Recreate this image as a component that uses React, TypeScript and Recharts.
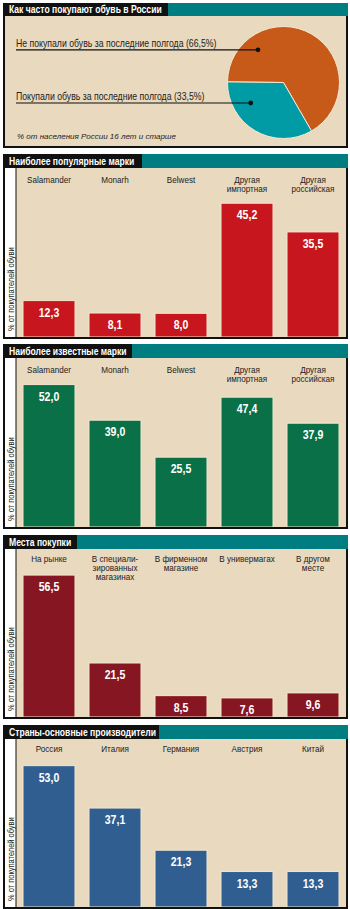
import React from 'react';
import { BarChart, Bar, XAxis, YAxis, CartesianGrid, LabelList, PieChart, Pie, Cell } from 'recharts';

const FONT = '"Liberation Sans", Arial, sans-serif';
const BEIGE = '#e9d9be';
const TEAL = '#007d80';
const SQUEEZE = 0.98;

// ---- data ----
const pieNames = ['Не покупали обувь за последние полгода', 'Покупали обувь за последние полгода'];
const pieValues = [66.5, 33.5];
const pieColors = ['#c85a19', '#009ba5'];

const brandCategories = ['Salamander', 'Monarh', 'Belwest', 'Другая\nимпортная', 'Другая\nроссийская'];
const popularValues = [12.3, 8.1, 8.0, 45.2, 35.5];
const knownValues = [52.0, 39.0, 25.5, 47.4, 37.9];

const placeCategories = ['На рынке', 'В специали-\nзированных\nмагазинах', 'В фирменном\nмагазине', 'В универмагах', 'В другом\nместе'];
const placeValues = [56.5, 21.5, 8.5, 7.6, 9.6];

const countryCategories = ['Россия', 'Италия', 'Германия', 'Австрия', 'Китай'];
const countryValues = [53.0, 37.1, 21.3, 13.3, 13.3];

const fmt = (v: number) => Number(v).toFixed(1).replace('.', ',');

// label anchor placement on the pie (style constants)
const PIE_ANCHORS = [
  { angle: 128, r: 0.74 },
  { angle: 212, r: 0.69 },
];
const PIE_TEXT_X = 11;

const TitleBar = ({ title, height, labelWidth }: { title: string; height: number; labelWidth: number }) => (
  <div style={{ display: 'flex', height, background: TEAL, fontSize: 11, lineHeight: height + 'px' }}>
    <div
      style={{
        background: '#111',
        width: labelWidth,
        height,
        overflow: 'hidden',
        flex: 'none',
      }}
    >
      <div
        style={{
          color: '#fff',
          fontFamily: FONT,
          fontWeight: 'bold',
          fontSize: 11,
          lineHeight: height + 'px',
          height,
          whiteSpace: 'nowrap',
          marginLeft: 6,
          transform: 'scaleX(0.78)',
          transformOrigin: 'left center',
        }}
      >
        {title}
      </div>
    </div>
  </div>
);

const CatTick = (props: any) => {
  const { x, y, payload, firstLine } = props;
  const lines = String(payload.value).split('\n');
  return (
    <g transform={`translate(${x},${y + firstLine}) scale(${SQUEEZE},1)`}>
      <text x={0} y={0} textAnchor="middle" fontFamily={FONT} fontSize={8.3} fill="#222">
        {lines.map((l: string, i: number) => (
          <tspan key={i} x={0} dy={i === 0 ? 0 : 9.4}>
            {l}
          </tspan>
        ))}
      </text>
    </g>
  );
};

const ValueLabel = (props: any) => {
  const { x, y, width, value } = props;
  const cx = Number(x) + Number(width) / 2;
  const cy = Number(y) + 16;
  return (
    <g transform={`translate(${cx},${cy}) scale(0.88,1)`}>
      <text x={0} y={0} textAnchor="middle" fill="#fff" fontFamily={FONT} fontSize={12} fontWeight="bold">
        {fmt(value)}
      </text>
    </g>
  );
};

const YLabel = (props: any) => {
  const vb = props.viewBox || {};
  const cx = vb.x + vb.width / 2 + 3;
  const cy = vb.y + vb.height - 6;
  return (
    <g transform={`translate(${cx},${cy}) rotate(-90) scale(0.88,1)`}>
      <text x={0} y={0} textAnchor="start" fontFamily={FONT} fontSize={8.5} fill="#222">
        % от покупателей обуви
      </text>
    </g>
  );
};

type BarPanelProps = {
  top: number;
  title: string;
  labelWidth: number;
  categories: string[];
  values: number[];
  color: string;
  yMax: number;
  plotHeight: number;
  firstLine: number;
};

const BarPanel = ({ top, title, labelWidth, categories, values, color, yMax, plotHeight, firstLine }: BarPanelProps) => {
  const data = categories.map((c, i) => ({ name: c, value: values[i] }));
  return (
    <div style={{ position: 'absolute', left: 3, top, width: 345 }}>
      <TitleBar title={title} height={14} labelWidth={labelWidth} />
      <div
        style={{
          borderLeft: '2px solid #111',
          borderRight: '2px solid #111',
          borderBottom: '2px solid #111',
          background: '#fff',
          height: plotHeight,
        }}
      >
        <BarChart width={341} height={plotHeight} data={data} margin={{ top: 0, right: 0, bottom: 0, left: 0 }} barSize={52}>
          <CartesianGrid fill={BEIGE} horizontal={false} vertical={false} stroke="none" />
          <YAxis
            width={11}
            type="number"
            domain={[0, yMax]}
            allowDataOverflow
            tick={false}
            tickLine={false}
            axisLine={{ stroke: '#111', strokeWidth: 1 }}
            label={{ content: YLabel }}
          />
          <Bar xAxisId="cat" dataKey="value" fill={color} stroke="#f2e6cf" strokeWidth={1} isAnimationActive={false}>
            <LabelList dataKey="value" content={ValueLabel} />
          </Bar>
          <XAxis
            xAxisId="cat"
            dataKey="name"
            orientation="top"
            mirror
            height={30}
            axisLine={false}
            tickLine={false}
            tickSize={0}
            tickMargin={0}
            interval={0}
            tick={<CatTick firstLine={firstLine} />}
          />
          <XAxis
            xAxisId="grid"
            type="number"
            domain={[0, 5]}
            ticks={[1, 2, 3, 4, 5]}
            allowDataOverflow
            orientation="bottom"
            mirror
            height={12}
            axisLine={false}
            tick={false}
            tickSize={9}
            tickLine={{ stroke: '#222', strokeWidth: 1 }}
          />
        </BarChart>
      </div>
    </div>
  );
};

const PieLabel = (props: any) => {
  const { cx, cy, outerRadius, index, value } = props;
  const name = (props.payload && props.payload.name) || props.name;
  const a = PIE_ANCHORS[index];
  const rad = (a.angle * Math.PI) / 180;
  const px = cx + outerRadius * a.r * Math.cos(rad);
  const py = cy - outerRadius * a.r * Math.sin(rad);
  return (
    <g>
      <line x1={PIE_TEXT_X} x2={px} y1={py} y2={py} stroke="#111" strokeWidth={1.2} />
      <circle cx={px} cy={py} r={2.4} fill="#111" />
      <g transform={`translate(${PIE_TEXT_X},${py - 2.5}) scale(0.83,1)`}>
        <text x={0} y={0} fontFamily={FONT} fontSize={10.5} fill="#222" textAnchor="start">
          {`${name} (${fmt(value)}%)`}
        </text>
      </g>
    </g>
  );
};

const PiePanel = () => {
  const data = pieNames.map((n, i) => ({ name: n, value: pieValues[i] }));
  return (
    <div style={{ position: 'absolute', left: 3, top: 3, width: 345 }}>
      <TitleBar title="Как часто покупают обувь в России" height={13} labelWidth={165} />
      <div
        style={{
          position: 'relative',
          borderLeft: '2px solid #111',
          borderRight: '2px solid #111',
          borderBottom: '2px solid #111',
          background: BEIGE,
          height: 130,
        }}
      >
        <PieChart width={341} height={130} margin={{ top: 0, right: 0, bottom: 0, left: 0 }}>
          <Pie
            data={data}
            dataKey="value"
            nameKey="name"
            cx={278.5}
            cy={66.5}
            outerRadius={56}
            startAngle={-60}
            endAngle={300}
            stroke="#f3e8d2"
            strokeWidth={1}
            label={PieLabel}
            labelLine={false}
            isAnimationActive={false}
          >
            {pieColors.map((c, i) => (
              <Cell key={i} fill={c} />
            ))}
          </Pie>
        </PieChart>
        <div
          style={{
            position: 'absolute',
            left: 12,
            top: 116,
            fontFamily: FONT,
            fontStyle: 'italic',
            fontSize: 8,
            lineHeight: '10px',
            color: '#222',
            whiteSpace: 'nowrap',
          }}
        >
          % от населения России 16 лет и старше
        </div>
      </div>
    </div>
  );
};

export default function App() {
  return (
    <div style={{ position: 'absolute', left: 0, top: 0, width: 350, height: 909, background: '#fff', overflow: 'hidden' }}>
      <PiePanel />
      <BarPanel
        top={154}
        title="Наиболее популярные марки"
        labelWidth={139}
        categories={brandCategories}
        values={popularValues}
        color="#c8161e"
        yMax={57.1}
        plotHeight={169}
        firstLine={14.5}
      />
      <BarPanel
        top={344}
        title="Наиболее известные марки"
        labelWidth={129}
        categories={brandCategories}
        values={knownValues}
        color="#0a7048"
        yMax={61.7}
        plotHeight={169}
        firstLine={14.5}
      />
      <BarPanel
        top={535}
        title="Места покупки"
        labelWidth={74}
        categories={placeCategories}
        values={placeValues}
        color="#871623"
        yMax={66.9}
        plotHeight={168}
        firstLine={12.5}
      />
      <BarPanel
        top={725}
        title="Страны-основные производители"
        labelWidth={156}
        categories={countryCategories}
        values={countryValues}
        color="#305e91"
        yMax={63}
        plotHeight={168}
        firstLine={12.5}
      />
    </div>
  );
}
